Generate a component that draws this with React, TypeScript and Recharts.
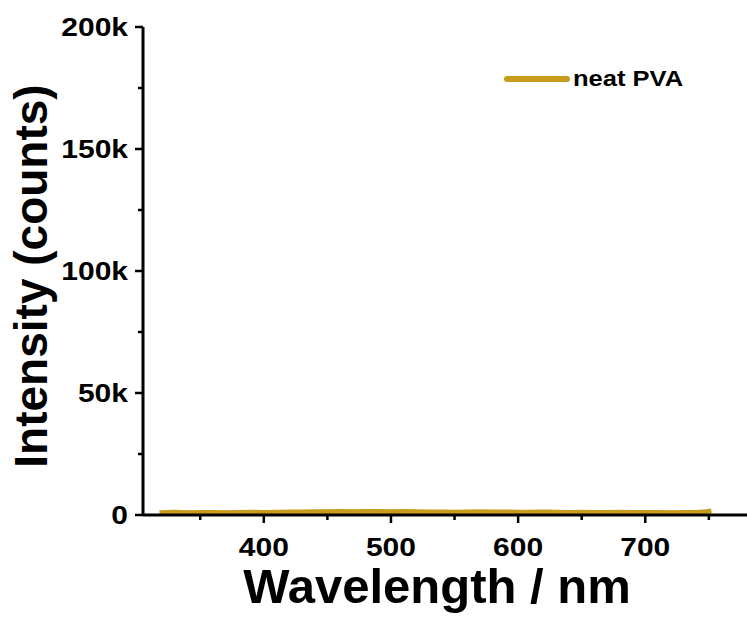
import React from 'react';
import { LineChart, Line, XAxis, YAxis, Legend } from 'recharts';

// emission spectrum of neat PVA film, basically flat near zero
const wavelengths = [
  318, 330, 340, 350, 360, 370, 380, 390, 400, 410, 420, 430, 440, 450, 460, 470, 480, 490,
  500, 510, 520, 530, 540, 550, 560, 570, 580, 590, 600, 610, 620, 630, 640, 650, 660, 670,
  680, 690, 700, 710, 720, 730, 740, 748, 752,
];
const intensity = [
  900, 1100, 950, 1000, 1050, 900, 1000, 1100, 1050, 1150, 1200, 1250, 1300, 1350, 1400, 1350,
  1450, 1400, 1350, 1400, 1300, 1250, 1200, 1150, 1250, 1300, 1200, 1250, 1150, 1100, 1200,
  1100, 1050, 1100, 1000, 1050, 1100, 1000, 1050, 1000, 950, 1000, 1050, 1300, 1700,
];
const xMajor = [400, 500, 600, 700];
const xTicks = [350, 400, 450, 500, 550, 600, 650, 700, 750];
const yTicks = [0, 25000, 50000, 75000, 100000, 125000, 150000, 175000, 200000];
const seriesName = 'neat PVA';

const data = wavelengths.map((w, i) => ({ w, v: intensity[i] }));

const FONT = '"Liberation Sans", Arial, sans-serif';
const GOLD = '#C69C1A';

// the original's labels are a bit wider than plain Arial bold
const STRETCH = 1.2;

const XTick = (props: any) => {
  const { x, y, payload } = props;
  const major = xMajor.includes(payload.value);
  return (
    <g>
      <line x1={x} x2={x} y1={y} y2={y + (major ? 8 : 5)} stroke="#000" strokeWidth={2.5} />
      {major && (
        <text
          transform={`translate(${x},${y + 41}) scale(${STRETCH},1)`}
          textAnchor="middle"
          fontFamily={FONT}
          fontWeight="bold"
          fontSize={25}
          fill="#000"
        >
          {payload.value}
        </text>
      )}
    </g>
  );
};

const YTick = (props: any) => {
  const { x, y, payload } = props;
  const major = payload.value % 50000 === 0;
  const label = payload.value === 0 ? '0' : `${payload.value / 1000}k`;
  return (
    <g>
      <line x1={x} x2={x - (major ? 8 : 5)} y1={y} y2={y} stroke="#000" strokeWidth={2.5} />
      {major && (
        <text
          transform={`translate(${x - 15},${y + 9}) scale(${STRETCH},1)`}
          textAnchor="end"
          fontFamily={FONT}
          fontWeight="bold"
          fontSize={25}
          fill="#000"
        >
          {label}
        </text>
      )}
    </g>
  );
};

const LegendBox = () => (
  <div style={{ display: 'flex', alignItems: 'center', fontFamily: FONT, fontWeight: 'bold', fontSize: 22 }}>
    <svg width={68} height={10}>
      <line x1={4} x2={64} y1={5} y2={5} stroke={GOLD} strokeWidth={6} strokeLinecap="round" />
    </svg>
    <span style={{ marginLeft: 2, display: 'inline-block', transform: 'scaleX(1.16)', transformOrigin: 'left center' }}>
      {seriesName}
    </span>
  </div>
);

export default function App() {
  return (
    <div style={{ position: 'absolute', left: 0, top: 0, background: '#fff' }}>
      <LineChart width={747} height={619} data={data} margin={{ top: 27, right: 0, left: 0, bottom: 0 }}>
        <XAxis
          dataKey="w"
          type="number"
          domain={[305, 780]}
          allowDataOverflow
          ticks={xTicks}
          interval={0}
          tickSize={0}
          tickMargin={0}
          tickLine={false}
          tick={<XTick />}
          height={104}
          axisLine={{ stroke: '#000', strokeWidth: 3 }}
          label={{
            content: () => (
              <text x={437} y={603} textAnchor="middle" fontFamily={FONT} fontWeight="bold" fontSize={49} fill="#000">
                Wavelength / nm
              </text>
            ),
          }}
        />
        <XAxis
          xAxisId="top"
          orientation="top"
          type="number"
          domain={[305, 780]}
          height={0}
          tick={false}
          tickLine={false}
          axisLine={{ stroke: '#000', strokeWidth: 3 }}
        />
        <YAxis
          type="number"
          domain={[0, 200000]}
          ticks={yTicks}
          interval={0}
          tickSize={0}
          tickMargin={0}
          tickLine={false}
          tick={<YTick />}
          width={143}
          axisLine={{ stroke: '#000', strokeWidth: 3 }}
          label={{
            content: () => (
              <text
                transform="translate(47,276) rotate(-90)"
                textAnchor="middle"
                fontFamily={FONT}
                fontWeight="bold"
                fontSize={46}
                fill="#000"
              >
                Intensity (counts)
              </text>
            ),
          }}
        />
        <Legend
          layout="horizontal"
          verticalAlign="middle"
          align="center"
          content={<LegendBox />}
          wrapperStyle={{ left: 503, top: 66, width: 'auto' }}
        />
        <Line
          type="linear"
          dataKey="v"
          name={seriesName}
          stroke={GOLD}
          strokeWidth={5}
          dot={false}
          isAnimationActive={false}
        />
      </LineChart>
    </div>
  );
}
